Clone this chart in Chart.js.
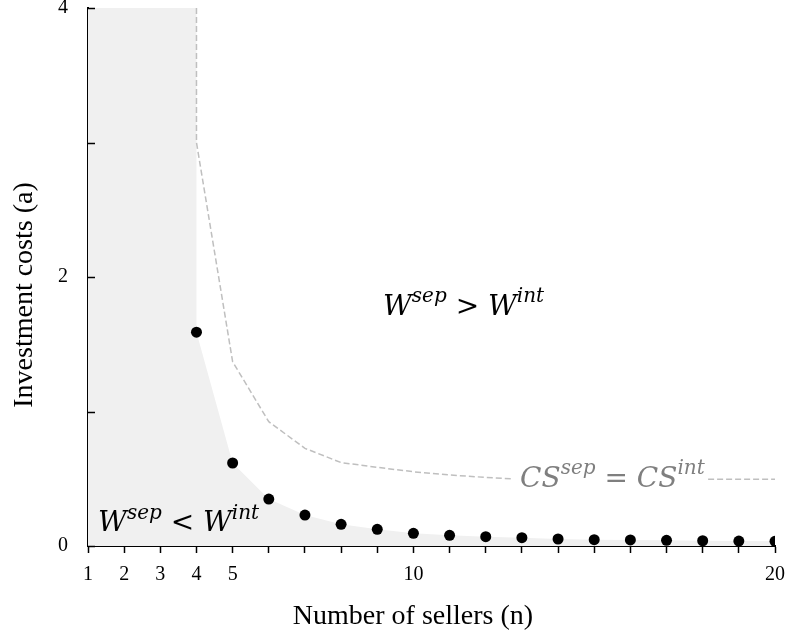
<!DOCTYPE html>
<html>
<head>
<meta charset="utf-8">
<script src="https://cdn.jsdelivr.net/npm/chart.js@4.4.1/dist/chart.umd.min.js"></script>
<style>
  html, body { margin: 0; padding: 0; background: #fff; }
  #wrap { width: 785px; height: 635px; }
</style>
</head>
<body>
<div id="wrap"><canvas id="myChart"></canvas></div>
<script>
// threshold where W^sep = W^int (black dots)
const sellers = [4, 5, 6, 7, 8, 9, 10, 11, 12, 13, 14, 15, 16, 17, 18, 19, 20];
const thresholdA = [1.59, 0.617, 0.349, 0.230, 0.161, 0.124, 0.094, 0.079, 0.069, 0.062, 0.052, 0.047, 0.045, 0.042, 0.039, 0.037, 0.035];

// shaded block for n below 4
const blockN = [1, 4];
const blockA = [4, 4];

// CS^sep = CS^int line, split around its label
const csLeftN = [4, 4, 5, 6, 7, 8, 9, 10, 11, 12, 12.7];
const csLeftA = [4, 3.0, 1.37, 0.924, 0.726, 0.62, 0.585, 0.552, 0.528, 0.51, 0.50];
const csRightN = [18.15, 20];
const csRightA = [0.496, 0.496];

const xTicks = [1, 2, 3, 4, 5, 6, 7, 8, 9, 10, 11, 12, 13, 14, 15, 16, 17, 18, 19, 20];
const xLabels = [1, 2, 3, 4, 5, 10, 20];
const yTicks = [0, 1, 2, 3, 4];
const yLabels = [0, 2, 4];

const pts = (xs, ys) => xs.map((x, i) => ({ x: x, y: ys[i] }));

const SERIF = '"Liberation Serif", serif';
const MATH = '"DejaVu Serif", serif';

// draws "W^sep > W^int" style text, parts: [text, isSup, upright]
function drawMath(ctx, parts, x, y, size, color) {
  ctx.save();
  ctx.fillStyle = color;
  ctx.textBaseline = 'alphabetic';
  ctx.textAlign = 'left';
  let cx = x;
  parts.forEach(p => {
    const sup = p[1];
    const upright = p[2];
    const fs = sup ? Math.round(size * 0.7) : size;
    ctx.font = (upright ? '' : 'italic ') + fs + 'px ' + MATH;
    ctx.fillText(p[0], cx, sup ? y - size * 0.45 : y);
    cx += ctx.measureText(p[0]).width;
  });
  ctx.restore();
}

const labelsPlugin = {
  id: 'labels',
  afterDraw(chart) {
    const ctx = chart.ctx;
    const xs = chart.scales.x, ys = chart.scales.y;

    // inward y ticks
    ctx.save();
    ctx.strokeStyle = '#000';
    ctx.lineWidth = 1.5;
    yTicks.forEach(v => {
      const py = Math.round(ys.getPixelForValue(v)) + 0.5;
      ctx.beginPath();
      ctx.moveTo(xs.left, py);
      ctx.lineTo(xs.left + 7, py);
      ctx.stroke();
    });
    ctx.restore();

    drawMath(ctx, [['W'], ['sep', true], [' > ', false, true], ['W'], ['int', true]],
      xs.getPixelForValue(9.16), ys.getPixelForValue(1.72), 28, '#000');
    drawMath(ctx, [['W'], ['sep', true], [' < ', false, true], ['W'], ['int', true]],
      xs.getPixelForValue(1.28), ys.getPixelForValue(0.11), 28, '#000');
    drawMath(ctx, [['CS'], ['sep', true], [' = ', false, true], ['CS'], ['int', true]],
      xs.getPixelForValue(12.95), ys.getPixelForValue(0.44), 28, '#7f7f7f');

    // axis titles
    ctx.save();
    ctx.fillStyle = '#000';
    ctx.font = '28px ' + SERIF;
    ctx.textAlign = 'center';
    ctx.textBaseline = 'alphabetic';
    ctx.fillText('Number of sellers (n)', 413, 624);
    ctx.translate(32, 295);
    ctx.rotate(-Math.PI / 2);
    ctx.fillText('Investment costs (a)', 0, 0);
    ctx.restore();
  }
};

const ctx = document.getElementById('myChart').getContext('2d');

new Chart(ctx, {
  type: 'line',
  data: {
    datasets: [
      {
        data: pts(sellers, thresholdA),
        showLine: false,
        pointRadius: 5.5,
        pointBackgroundColor: '#000',
        pointBorderWidth: 0,
      },
      {
        data: pts(csLeftN, csLeftA),
        borderColor: '#bfbfbf',
        borderWidth: 1.5,
        borderDash: [6, 3],
        pointRadius: 0,
        fill: false,
      },
      {
        data: pts(csRightN, csRightA),
        borderColor: '#bfbfbf',
        borderWidth: 1.5,
        borderDash: [6, 3],
        pointRadius: 0,
        fill: false,
      },
      {
        // shaded region W^sep < W^int
        data: pts(blockN, blockA).concat(pts(sellers, thresholdA)),
        borderWidth: 0,
        borderColor: 'rgba(0,0,0,0)',
        backgroundColor: '#f0f0f0',
        pointRadius: 0,
        fill: 'origin',
      },
    ]
  },
  options: {
    responsive: true,
    maintainAspectRatio: false,
    animation: false,
    layout: { padding: { top: 8, right: 10, left: 0, bottom: 0 } },
    plugins: {
      legend: { display: false },
      tooltip: { enabled: false }
    },
    scales: {
      x: {
        type: 'linear',
        min: 1,
        max: 20,
        afterFit: s => { s.height = 89; s.paddingLeft = 0; s.paddingRight = 0; },
        afterBuildTicks: s => { s.ticks = xTicks.map(v => ({ value: v })); },
        border: { color: '#000', width: 2 },
        grid: { drawOnChartArea: false, tickLength: 7, tickColor: '#000', tickWidth: 1.5 },
        ticks: {
          autoSkip: false,
          maxRotation: 0,
          padding: 10,
          color: '#000',
          font: { family: SERIF, size: 20 },
          callback: v => xLabels.includes(v) ? String(v) : ''
        }
      },
      y: {
        min: 0,
        max: 4,
        afterFit: s => { s.width = 88; s.paddingTop = 0; s.paddingBottom = 0; },
        afterBuildTicks: s => { s.ticks = yTicks.map(v => ({ value: v })); },
        border: { color: '#000', width: 2 },
        grid: { drawOnChartArea: false, drawTicks: false },
        ticks: {
          padding: 20,
          color: '#000',
          font: { family: SERIF, size: 20 },
          callback: v => yLabels.includes(v) ? String(v) : ''
        }
      }
    }
  },
  plugins: [labelsPlugin]
});
</script>
</body>
</html>
